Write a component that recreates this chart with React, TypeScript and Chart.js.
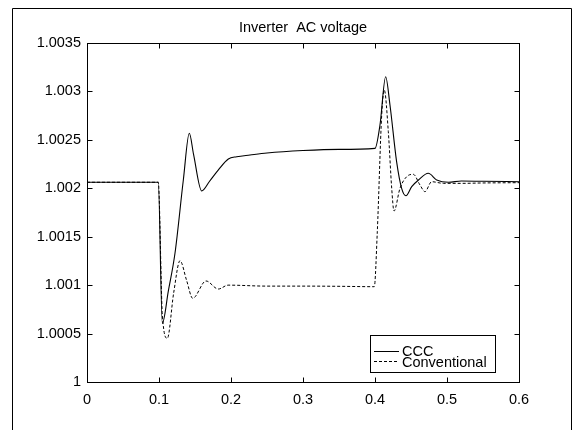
import React, { useEffect, useRef } from "react";
import { Chart, registerables } from "chart.js";

Chart.register(...registerables);

const titleText = "Inverter  AC voltage";
const xTicks = [0, 0.1, 0.2, 0.3, 0.4, 0.5, 0.6];
const yTicks = [1, 1.0005, 1.001, 1.0015, 1.002, 1.0025, 1.003, 1.0035];

const cccX = [0, 0.099, 0.1046, 0.113, 0.1222, 0.1338, 0.1421, 0.148, 0.1593, 0.17, 0.1825, 0.1963, 0.2079, 0.2264, 0.25, 0.3, 0.35, 0.4, 0.4069, 0.4148, 0.4208, 0.43, 0.437, 0.443, 0.451, 0.4604, 0.474, 0.4857, 0.5021, 0.52, 0.55, 0.6];
const cccY = [1.002062, 1.002062, 1.000606, 1.00094, 1.001329, 1.002086, 1.002568, 1.00235, 1.001972, 1.00207, 1.00219, 1.002302, 1.002326, 1.002344, 1.002365, 1.00239, 1.002402, 1.002412, 1.002653, 1.003152, 1.00286, 1.002275, 1.002, 1.001923, 1.002017, 1.002086, 1.002155, 1.002086, 1.002062, 1.002075, 1.002072, 1.002068];

const convX = [0, 0.099, 0.1046, 0.1116, 0.1203, 0.1292, 0.1383, 0.1468, 0.1653, 0.1824, 0.196, 0.25, 0.3, 0.35, 0.399, 0.4032, 0.4093, 0.4129, 0.4185, 0.4232, 0.4264, 0.4347, 0.444, 0.4532, 0.4625, 0.4694, 0.4787, 0.495, 0.52, 0.55, 0.6];
const convY = [1.002062, 1.002062, 1.0007, 1.000451, 1.000916, 1.001252, 1.00105, 1.000864, 1.001043, 1.00096, 1.001, 1.00099, 1.00099, 1.000988, 1.000984, 1.001552, 1.002757, 1.003015, 1.002584, 1.002, 1.001765, 1.002, 1.00212, 1.002144, 1.002034, 1.001965, 1.002068, 1.002051, 1.002051, 1.002055, 1.002058];

const FONT_FAMILY = "'Liberation Sans', Arial, Helvetica, sans-serif";
const FONT_SIZE = 14.5;

const fmt = (v: number) => String(Number(Number(v).toFixed(4)));

const decorPlugin = {
  id: "decor",
  afterDraw(chart: any) {
    const ctx = chart.ctx as CanvasRenderingContext2D;
    const a = chart.chartArea;
    const xs = chart.scales.x;
    const ys = chart.scales.y;
    ctx.save();
    ctx.strokeStyle = "#000";
    ctx.lineWidth = 1;
    ctx.setLineDash([]);
    // outer frame
    ctx.beginPath();
    ctx.moveTo(12.5, 430);
    ctx.lineTo(12.5, 8.5);
    ctx.lineTo(571.5, 8.5);
    ctx.lineTo(571.5, 430);
    ctx.stroke();
    // plot box
    const L = Math.round(a.left) + 0.5;
    const R = Math.round(a.right) + 0.5;
    const T = Math.round(a.top) + 0.5;
    const B = Math.round(a.bottom) + 0.5;
    ctx.strokeRect(L, T, R - L, B - T);
    // inward ticks
    const tl = 5;
    ctx.beginPath();
    xTicks.forEach((v) => {
      const px = Math.round(xs.getPixelForValue(v)) + 0.5;
      ctx.moveTo(px, B);
      ctx.lineTo(px, B - tl);
      ctx.moveTo(px, T);
      ctx.lineTo(px, T + tl);
    });
    yTicks.forEach((v) => {
      const py = Math.round(ys.getPixelForValue(v)) + 0.5;
      ctx.moveTo(L, py);
      ctx.lineTo(L + tl, py);
      ctx.moveTo(R, py);
      ctx.lineTo(R - tl, py);
    });
    ctx.stroke();
    // legend
    const lx = 370.5, ly = 335.5, lw = 125, lh = 37;
    ctx.fillStyle = "#fff";
    ctx.fillRect(lx, ly, lw, lh);
    ctx.strokeRect(lx, ly, lw, lh);
    const rows = [351.5, 361.5];
    const bases = [355.5, 366.5];
    chart.data.datasets.forEach((ds: any, i: number) => {
      ctx.beginPath();
      ctx.setLineDash(ds.borderDash || []);
      ctx.lineWidth = 1;
      ctx.moveTo(374, rows[i]);
      ctx.lineTo(399, rows[i]);
      ctx.stroke();
      ctx.setLineDash([]);
      ctx.fillStyle = "#000";
      ctx.font = `${FONT_SIZE}px ${FONT_FAMILY}`;
      ctx.textBaseline = "alphabetic";
      ctx.textAlign = "left";
      ctx.fillText(ds.label, 402, bases[i]);
    });
    ctx.restore();
  },
};

export default function App() {
  const ref = useRef<HTMLCanvasElement | null>(null);
  useEffect(() => {
    document.body.style.margin = "0";
    const canvas = ref.current;
    if (!canvas) return;
    const font = { family: FONT_FAMILY, size: FONT_SIZE };
    const chart = new Chart(canvas, {
      type: "line",
      data: {
        datasets: [
          {
            label: "CCC",
            data: cccX.map((x, i) => ({ x, y: cccY[i] })),
            borderColor: "#000",
            borderWidth: 1.1,
            pointRadius: 0,
            fill: false,
            cubicInterpolationMode: "monotone",
          },
          {
            label: "Conventional",
            data: convX.map((x, i) => ({ x, y: convY[i] })),
            borderColor: "#000",
            borderWidth: 1,
            borderDash: [3, 2],
            pointRadius: 0,
            fill: false,
            cubicInterpolationMode: "monotone",
          },
        ],
      },
      options: {
        responsive: false,
        animation: false,
        devicePixelRatio: 1,
        layout: { padding: { left: 0, right: 57, top: 0, bottom: 0 } },
        plugins: {
          legend: { display: false },
          tooltip: { enabled: false },
          title: {
            display: true,
            text: titleText,
            color: "#000",
            font: { ...font, weight: "normal" },
            fullSize: false,
            padding: { top: 19, bottom: 6.6 },
          },
        },
        scales: {
          x: {
            type: "linear",
            min: 0,
            max: 0.6,
            afterBuildTicks: (s: any) => {
              s.ticks = xTicks.map((v) => ({ value: v }));
            },
            afterFit: (s: any) => {
              s.height = 48;
            },
            ticks: {
              color: "#000",
              font,
              padding: 9,
              maxRotation: 0,
              autoSkip: false,
              callback: (v: any) => fmt(v),
            },
            grid: { display: false, drawTicks: false },
            border: { display: true, color: "#000", width: 1 },
          },
          y: {
            type: "linear",
            min: 1,
            max: 1.0035,
            afterBuildTicks: (s: any) => {
              s.ticks = yTicks.map((v) => ({ value: v }));
            },
            afterFit: (s: any) => {
              s.width = 87;
            },
            ticks: {
              color: "#000",
              font,
              padding: 6,
              autoSkip: false,
              callback: (v: any) => fmt(v),
            },
            grid: { display: false, drawTicks: false },
            border: { display: true, color: "#000", width: 1 },
          },
        },
      },
      plugins: [decorPlugin],
    } as any);
    return () => chart.destroy();
  }, []);
  return (
    <div style={{ position: "absolute", left: 0, top: 0, width: 576, height: 430, background: "#fff" }}>
      <canvas ref={ref} width={576} height={430} style={{ display: "block", width: 576, height: 430 }} />
    </div>
  );
}
